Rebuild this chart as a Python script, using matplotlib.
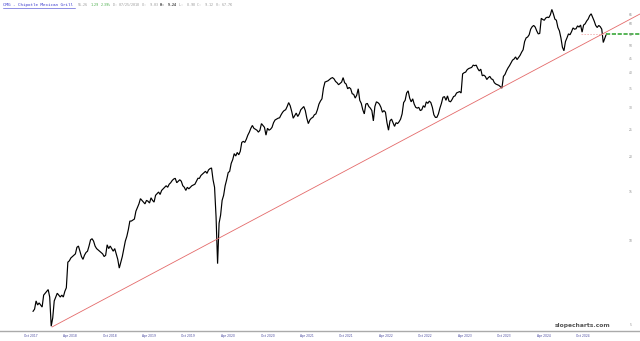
import matplotlib
matplotlib.use("Agg")
import matplotlib.pyplot as plt
import matplotlib.transforms as mtransforms
from matplotlib.ticker import NullLocator
import pandas as pd

# ---------------- data (weekly closes, split-adjusted) ----------------
close_2017 = [5.6, 5.7, 6.1, 5.9, 6.0, 5.9, 5.8]
close_2018 = [6.4, 6.5, 6.6, 6.7, 6.3, 4.95, 5.3, 6.1, 6.3, 6.5, 6.4, 6.3, 6.4,
              6.3, 6.6, 6.8, 8.4, 8.5, 8.7, 8.8, 8.9, 9.0, 9.5, 9.6, 9.2, 8.8,
              8.6, 8.9, 9.1, 9.2, 9.6, 10.1, 10.2, 10.0, 9.6, 9.4, 9.3, 9.2, 9.1,
              9.0, 8.8, 8.9, 9.7, 9.4, 9.6, 9.4, 9.2, 9.4, 9.0, 8.6, 8.0, 8.4, 8.8]
close_2019 = [9.4, 10.0, 10.4, 11.0, 11.8, 11.8, 11.9, 12.0, 12.8, 13.2, 13.6, 14.2,
              14.0, 13.8, 13.6, 14.0, 13.9, 13.7, 14.3, 14.0, 13.8, 14.6, 14.8, 15.0,
              14.7, 15.2, 15.4, 15.6, 15.8, 15.6, 16.0, 16.2, 16.5, 16.7, 16.8, 16.2,
              16.4, 16.6, 16.4, 15.8, 15.6, 15.2, 15.6, 15.4, 15.6, 15.8, 15.9, 16.0,
              16.4, 16.8, 16.8, 17.2]
close_2020 = [17.4, 17.6, 17.8, 17.5, 18.0, 18.2, 18.3, 16.6, 15.6, 12.2, 8.3, 11.6,
              12.4, 14.0, 14.6, 15.8, 16.6, 17.6, 17.8, 19.0, 19.6, 20.6, 20.2, 20.8,
              20.4, 21.0, 22.6, 22.8, 22.6, 23.2, 24.0, 24.6, 25.4, 26.0, 25.4, 25.2,
              25.0, 24.6, 25.0, 26.4, 26.0, 25.6, 24.0, 25.4, 25.0, 25.2, 25.6, 26.6,
              27.2, 27.4, 27.6, 27.7]
close_2021 = [28.4, 29.0, 29.4, 29.6, 30.4, 31.4, 30.6, 29.2, 27.6, 28.2, 28.8, 28.0,
              28.6, 29.6, 30.0, 30.4, 29.4, 27.6, 26.4, 27.2, 27.6, 27.8, 28.4, 28.6,
              29.6, 31.0, 31.8, 32.4, 35.4, 37.2, 37.4, 37.6, 38.0, 38.4, 38.6, 38.2,
              37.4, 37.0, 36.4, 36.8, 37.2, 38.6, 37.0, 36.6, 35.2, 35.6, 35.2, 33.8,
              33.6, 32.6, 33.4, 35.2]
close_2022 = [32.0, 31.2, 29.6, 28.6, 31.0, 31.2, 30.4, 30.0, 29.4, 27.0, 30.4, 31.6,
              31.4, 31.0, 30.2, 29.0, 29.4, 29.0, 26.6, 25.0, 27.0, 27.4, 26.6, 25.8,
              26.6, 26.4, 26.8, 27.4, 28.6, 31.4, 32.0, 34.0, 34.6, 32.6, 31.6, 32.4,
              31.0, 30.2, 30.0, 30.2, 29.4, 29.6, 30.6, 30.2, 31.6, 31.2, 31.8, 31.4,
              30.2, 28.4, 27.8, 27.8]
close_2023 = [28.6, 30.0, 31.2, 32.8, 33.0, 32.0, 33.2, 31.8, 31.6, 32.2, 33.0, 33.2,
              34.0, 34.2, 34.4, 34.0, 39.8, 40.2, 40.4, 41.2, 41.6, 41.8, 42.0, 42.8,
              42.6, 42.8, 41.6, 40.8, 41.4, 39.2, 39.4, 39.0, 38.0, 38.6, 39.0, 38.2,
              38.0, 37.0, 36.6, 36.4, 36.2, 35.8, 35.4, 39.0, 39.6, 40.8, 41.8, 42.6,
              43.6, 44.6, 45.0, 45.8]
close_2024 = [44.8, 45.6, 46.4, 47.6, 48.6, 52.0, 53.6, 54.0, 55.0, 57.6, 58.8, 59.4,
              58.6, 56.8, 55.4, 55.6, 63.0, 62.4, 62.0, 63.2, 63.6, 63.4, 64.8, 67.8,
              65.4, 62.6, 62.0, 58.4, 56.8, 53.6, 49.6, 48.2, 52.0, 53.6, 55.4, 55.0,
              56.4, 58.2, 57.6, 57.8, 59.2, 58.6, 59.6, 56.2, 59.6, 60.2, 61.6, 62.6,
              64.4, 65.4, 63.4, 61.6, 59.4]
close_2025 = [58.4, 59.4, 58.8, 57.6, 51.6, 53.4, 55.26]

segment_starts = ["2017-11-13", "2018-01-01", "2019-01-07", "2020-01-06",
                  "2021-01-04", "2022-01-03", "2023-01-02", "2024-01-01", "2025-01-06"]
segment_values = [close_2017, close_2018, close_2019, close_2020, close_2021,
                  close_2022, close_2023, close_2024, close_2025]

# trendline anchors (log-linear support line)
trend_dates = ["2018-02-09", "2025-07-23"]
trend_values = [4.92, 65.3]

last_price = 55.26
y_labels = [5, 10, 15, 20, 25, 30, 35, 40, 45, 50, 55, 60, 65]
x_tick_dates = ["2017-10-01", "2018-04-01", "2018-10-01", "2019-04-01", "2019-10-01",
                "2020-04-01", "2020-10-01", "2021-04-01", "2021-10-01", "2022-04-01",
                "2022-10-01", "2023-04-01", "2023-10-01", "2024-04-01", "2024-10-01"]

# ---------------- build series ----------------
dates = []
closes = []
for start, vals in zip(segment_starts, segment_values):
    d = pd.date_range(start, periods=len(vals), freq="7D")
    dates.extend(list(d))
    closes.extend(vals)

# ---------------- figure ----------------
W, H = 640, 341
fig = plt.figure(figsize=(6.4, 3.41), dpi=100)
fig.patch.set_facecolor("white")
ax = fig.add_axes([0, 10 / H, 1, 331 / H])
ax.set_facecolor("white")
ax.set_yscale("log")
ax.set_ylim(4.758, 73.3)
x0 = pd.Timestamp("2017-06-13")
x1 = pd.Timestamp("2025-07-23")
ax.set_xlim(x0, x1)

ax.plot(dates, closes, color="black", lw=0.85, solid_joinstyle="miter")

# trend line
ax.plot(pd.to_datetime(trend_dates), trend_values, color="#e46a6a", lw=0.6)

# last price lines
ax.plot([pd.Timestamp("2024-10-25"), dates[-1]], [last_price, last_price],
        color="#f2b3b3", lw=0.6, ls=(0, (2, 1.5)))
ax.plot([dates[-1], x1], [last_price, last_price], color="#3aa83a", lw=1.2,
        ls=(0, (2.5, 1)))

# spines / ticks
for s in ["top", "left", "right"]:
    ax.spines[s].set_visible(False)
ax.spines["bottom"].set_color("#aaaaaa")
ax.spines["bottom"].set_linewidth(1.0)
ax.yaxis.set_major_locator(NullLocator())
ax.yaxis.set_minor_locator(NullLocator())
ax.set_xticks(pd.to_datetime(x_tick_dates))
ax.set_xticklabels([pd.Timestamp(d).strftime("%b %Y") for d in x_tick_dates],
                   fontsize=2.2, color="#4a4aa0", ha="left")
ax.tick_params(axis="x", length=0, pad=2.5)

# right price labels
trans = mtransforms.blended_transform_factory(ax.transAxes, ax.transData)
for v in y_labels:
    ax.text(631 / W, v, str(v), transform=trans, fontsize=2.2, color="#888888",
            ha="center", va="center")

# header text (laid out sequentially, monospace)
ty = 1 - 5 / H
name_txt = "CMG - Chipotle Mexican Grill"
fig.text(3 / W, ty, name_txt, fontsize=3.1, color="#3b3bd0",
         family="DejaVu Sans Mono", ha="left", va="center")
fig.add_artist(plt.Line2D([3 / W, 75 / W], [ty - 2.6 / H, ty - 2.6 / H],
                          color="#3b3bd0", lw=0.4))
pieces = [
    ("55.26", "#999999", "normal"),
    ("1.29", "#44aa44", "normal"),
    ("2.39%", "#44aa44", "normal"),
    ("D: 07/25/2018", "#999999", "normal"),
    ("O:  9.03", "#999999", "normal"),
    ("H:  9.24", "#333333", "bold"),
    ("L:  8.98", "#999999", "normal"),
    ("C:  9.12", "#999999", "normal"),
    ("V: 67.7K", "#999999", "normal"),
]
fs = 2.4
charw = fs * 100 / 72 * 0.602  # px per monospace char
cur = 78.0
for txt, col, wt in pieces:
    fig.text(cur / W, ty, txt, fontsize=fs, color=col, weight=wt,
             family="DejaVu Sans Mono", ha="left", va="center")
    cur += (len(txt) + 1.2) * charw

# watermark
fig.text(583 / W, 1 - 326 / H, "slopecharts.com", fontsize=4.3, weight="bold",
         color="#555555", ha="center", va="center")

fig.savefig("out.png", dpi=100, facecolor="white")
